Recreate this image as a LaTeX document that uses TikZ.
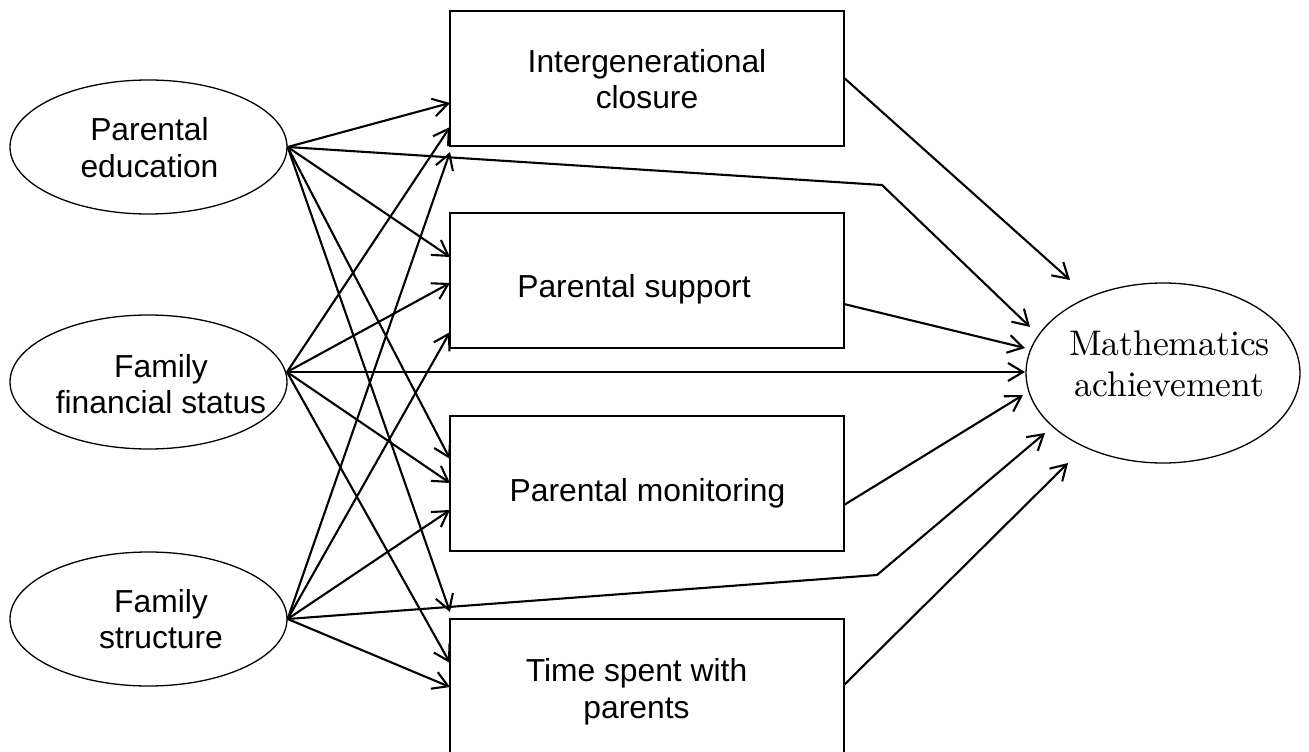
\documentclass[tikz,border=0pt]{standalone}
\usepackage{fontspec}
\newfontfamily\arialf{Liberation Sans}
\newfontfamily\lmten{lmroman10-regular.otf}
\usetikzlibrary{arrows.meta,shapes.geometric}
\begin{document}
\begin{tikzpicture}[x=1pt,y=-1pt,
  conn/.style={line width=2.1pt,-{Straight Barb[length=15pt,width=18pt,line width=2.1pt]}},
  ell/.style={draw,ellipse,line width=1.3pt,inner sep=0pt,minimum width=277pt,minimum height=134pt},
  boxn/.style={draw,rectangle,line width=1.5pt,inner sep=0pt,minimum width=394pt,minimum height=135pt},
  lbl/.style={font=\arialf\fontsize{31.8}{36.6}\selectfont,align=center,anchor=north,inner sep=0pt},
]
\useasboundingbox (0,0) rectangle (1309,752);
\clip (0,0) rectangle (1309,752);
% ellipses
\node[ell] (pe) at (148.5,147) {};
\node[ell] (ffs) at (148.5,382) {};
\node[ell] (fs) at (148.5,619) {};
\node[ell,minimum width=274pt,minimum height=180pt] (ma) at (1163,373) {};
% boxes
\node[boxn] (ic) at (647,78.5) {};
\node[boxn] (ps) at (647,280.5) {};
\node[boxn] (pm) at (647,483.5) {};
\node[boxn] (ts) at (647,686.5) {};
% texts
\node[lbl] (pet) at (149.5,117.3) {Parental\\education};
\node[lbl] (ffst) at (161,354) {Family\\financial status};
\node[lbl] (fst) at (161,589) {Family\\structure};
\node[lbl] (ict) at (647,49) {Intergenerational\\closure};
\node[lbl] (pst) at (634,274) {Parental support};
\node[lbl] (pmt) at (647.5,478) {Parental monitoring};
\node[lbl] (tst) at (636.5,658.3) {Time spent with\\parents};
\node[lbl,font=\lmten\fontsize{35.6}{41.7}\selectfont] (mat) at (1169.5,330.3) {Mathematics\\achievement};
% coordinates
\coordinate (ffsout) at (287,372);
\coordinate (ic1) at (450,103);
\coordinate (ic2) at (450,127);
\coordinate (ic3) at (450,152);
\coordinate (ps1) at (450,257);
\coordinate (ps2) at (450,283);
\coordinate (ps3) at (450,332);
\coordinate (pm1) at (450,459);
\coordinate (pm2) at (450,483);
\coordinate (pm3) at (450,510);
\coordinate (ts1) at (450,612);
\coordinate (ts2) at (450,663);
\coordinate (ts3) at (450,687);
\coordinate (bend1) at (882,185);
\coordinate (bend2) at (877,575);
\coordinate (psout) at (844,304);
\coordinate (pmout) at (844,505);
\coordinate (tsout) at (844,685);
\coordinate (ma1) at (1070,280);
\coordinate (ma2) at (1030,327);
\coordinate (ma3) at (1025,348);
\coordinate (ma4) at (1025,372);
\coordinate (ma5) at (1023,395);
\coordinate (ma6) at (1045,433);
\coordinate (ma7) at (1068,463);
% left to middle
\draw[conn] (pe.east) -- (ic1);
\draw[conn] (pe.east) -- (ps1);
\draw[conn] (pe.east) -- (pm1);
\draw[conn] (pe.east) -- (ts1);
\draw[conn] (ffsout) -- (ic2);
\draw[conn] (ffsout) -- (ps2);
\draw[conn] (ffsout) -- (pm2);
\draw[conn] (ffsout) -- (ts2);
\draw[conn] (fs.east) -- (ic3);
\draw[conn] (fs.east) -- (ps3);
\draw[conn] (fs.east) -- (pm3);
\draw[conn] (fs.east) -- (ts3);
% direct paths
\draw[conn] (pe.east) -- (bend1) -- (ma2);
\draw[conn] (ffsout) -- (ma4);
\draw[conn] (fs.east) -- (bend2) -- (ma6);
% middle to outcome
\draw[conn] (ic.east) -- (ma1);
\draw[conn] (psout) -- (ma3);
\draw[conn] (pmout) -- (ma5);
\draw[conn] (tsout) -- (ma7);
\end{tikzpicture}
\end{document}
